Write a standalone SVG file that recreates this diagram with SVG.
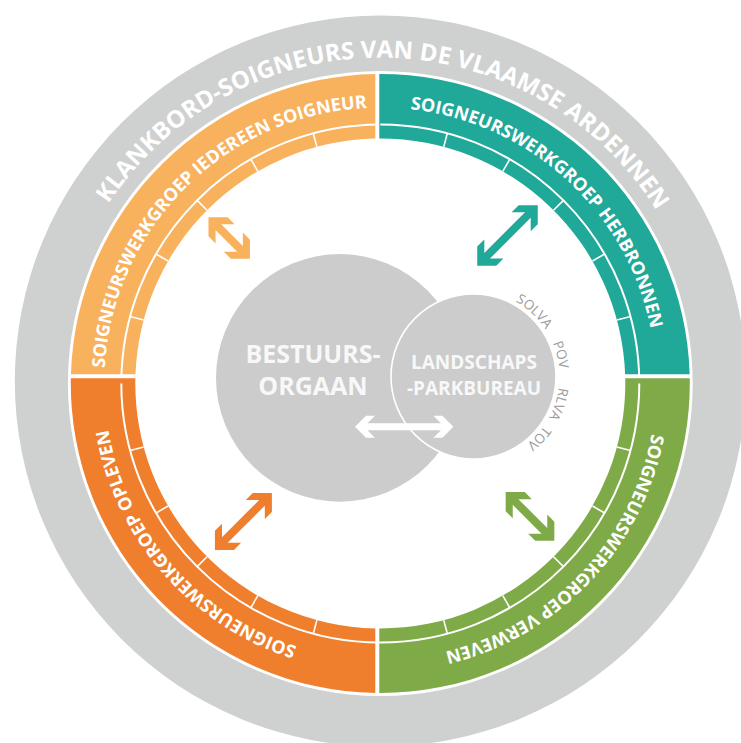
<svg xmlns="http://www.w3.org/2000/svg" xmlns:xlink="http://www.w3.org/1999/xlink" width="741" height="743" viewBox="0 0 741 743">
<style>
.rt{font-family:"Open Sans","Liberation Sans",sans-serif;font-weight:700;fill:#ffffff}
.title{font-size:24px}
.qt{font-size:18px}
.sep{fill:none;stroke:#ffffff;stroke-width:2}
.dv{stroke:#ffffff;stroke-width:1.6}
.core{fill:#cccccc}
.ct{font-family:"Open Sans","Liberation Sans",sans-serif;font-weight:700;fill:#f8f8f8;text-anchor:middle}
.sm{font-family:"Open Sans","Liberation Sans",sans-serif;font-size:13.5px;fill:#9c9c9c}
.lo{fill:#f8b15d}.te{fill:#20a898}.do{fill:#f07f2d}.gr{fill:#7faa48}.wh{fill:#ffffff}
</style>
<defs>
<path id="arc276" d="M 104.3 383.5 A 276 276 0 0 1 656.3 383.5"/>
<path id="arc326" d="M 54.3 383.5 A 326 326 0 0 1 706.3 383.5"/>
<path id="arc86" d="M 387.5 376.5 A 86 86 0 0 1 559.5 376.5"/>
<line id="dvl" x1="380.3" y1="138.5" x2="380.3" y2="124.5"/>
</defs>

<g id="klankbord">
<path d="M 14.8 381 a 365.5 365.5 0 1 0 731 0 a 365.5 365.5 0 1 0 -731 0 Z M 67.9 383.5 a 312.4 312.4 0 1 0 624.8 0 a 312.4 312.4 0 1 0 -624.8 0 Z" fill="#cfd0d0" fill-rule="evenodd"/>
<text class="rt title" transform="rotate(0.7 380.3 383.5)"><textPath xlink:href="#arc326" href="#arc326" startOffset="50%" text-anchor="middle">KLANKBORD-SOIGNEURS VAN DE VLAAMSE ARDENNEN</textPath></text>
</g>

<g id="wg-iedereen">
<path class="lo" d="M 70.94 374.3 A 309.5 309.5 0 0 1 375.3 74.04 L 375.3 138.55 A 245 245 0 0 0 135.47 374.3 Z"/>
<path class="sep" d="M 121.3 383.5 A 259 259 0 0 1 380.3 124.5"/>
<g class="dv">
<use xlink:href="#dvl" href="#dvl" transform="rotate(-15 380.3 383.5)"/>
<use xlink:href="#dvl" href="#dvl" transform="rotate(-30 380.3 383.5)"/>
<use xlink:href="#dvl" href="#dvl" transform="rotate(-45 380.3 383.5)"/>
<use xlink:href="#dvl" href="#dvl" transform="rotate(-60 380.3 383.5)"/>
<use xlink:href="#dvl" href="#dvl" transform="rotate(-75 380.3 383.5)"/>
</g>
<text class="rt qt" transform="rotate(-44.75 380.3 383.5)"><textPath xlink:href="#arc276" href="#arc276" startOffset="50%" text-anchor="middle">SOIGNEURSWERKGROEP IEDEREEN SOIGNEUR</textPath></text>
</g>

<g id="wg-herbronnen">
<path class="te" d="M 379.3 74.0 A 309.5 309.5 0 0 1 689.66 374.3 L 625.13 374.3 A 245 245 0 0 0 379.3 138.5 Z"/>
<path class="sep" d="M 380.3 124.5 A 259 259 0 0 1 639.3 383.5"/>
<g class="dv">
<use xlink:href="#dvl" href="#dvl" transform="rotate(15 380.3 383.5)"/>
<use xlink:href="#dvl" href="#dvl" transform="rotate(30 380.3 383.5)"/>
<use xlink:href="#dvl" href="#dvl" transform="rotate(45 380.3 383.5)"/>
<use xlink:href="#dvl" href="#dvl" transform="rotate(60 380.3 383.5)"/>
<use xlink:href="#dvl" href="#dvl" transform="rotate(75 380.3 383.5)"/>
</g>
<text class="rt qt" transform="rotate(42.4 380.3 383.5)"><textPath xlink:href="#arc276" href="#arc276" startOffset="50%" text-anchor="middle">SOIGNEURSWERKGROEP HERBRONNEN</textPath></text>
</g>

<g id="wg-verweven">
<path class="gr" d="M 689.76 378.3 A 309.5 309.5 0 0 1 379.3 693.0 L 379.3 628.5 A 245 245 0 0 0 625.24 378.3 Z"/>
<path class="sep" d="M 639.3 383.5 A 259 259 0 0 1 380.3 642.5"/>
<g class="dv">
<use xlink:href="#dvl" href="#dvl" transform="rotate(105 380.3 383.5)"/>
<use xlink:href="#dvl" href="#dvl" transform="rotate(120 380.3 383.5)"/>
<use xlink:href="#dvl" href="#dvl" transform="rotate(135 380.3 383.5)"/>
<use xlink:href="#dvl" href="#dvl" transform="rotate(150 380.3 383.5)"/>
<use xlink:href="#dvl" href="#dvl" transform="rotate(165 380.3 383.5)"/>
</g>
<text class="rt qt" transform="rotate(133.5 380.3 383.5)"><textPath xlink:href="#arc276" href="#arc276" startOffset="50%" text-anchor="middle">SOIGNEURSWERKGROEP VERWEVEN</textPath></text>
</g>

<g id="wg-opleven">
<path class="do" d="M 375.3 692.96 A 309.5 309.5 0 0 1 70.84 378.3 L 135.36 378.3 A 245 245 0 0 0 375.3 628.45 Z"/>
<path class="sep" d="M 380.3 642.5 A 259 259 0 0 1 121.3 383.5"/>
<g class="dv">
<use xlink:href="#dvl" href="#dvl" transform="rotate(195 380.3 383.5)"/>
<use xlink:href="#dvl" href="#dvl" transform="rotate(210 380.3 383.5)"/>
<use xlink:href="#dvl" href="#dvl" transform="rotate(225 380.3 383.5)"/>
<use xlink:href="#dvl" href="#dvl" transform="rotate(240 380.3 383.5)"/>
<use xlink:href="#dvl" href="#dvl" transform="rotate(255 380.3 383.5)"/>
</g>
<text class="rt qt" transform="rotate(229 380.3 383.5)"><textPath xlink:href="#arc276" href="#arc276" startOffset="50%" text-anchor="middle">SOIGNEURSWERKGROEP OPLEVEN</textPath></text>
</g>

<g id="bestuursorgaan">
<circle class="core" cx="339.8" cy="377.9" r="123.8"/>
<text class="ct" font-size="25" x="313" y="363">BESTUURS-</text>
<text class="ct" font-size="25" x="313" y="395">ORGAAN</text>
</g>

<g id="landschapsparkbureau">
<circle class="core" cx="473.5" cy="376.5" r="82.5" stroke="#ffffff" stroke-width="1.6"/>
<text class="ct" font-size="19" x="474" y="369">LANDSCHAPS</text>
<text class="ct" font-size="19" x="474" y="395">-PARKBUREAU</text>
<text class="sm" transform="rotate(43 473.5 376.5)"><textPath xlink:href="#arc86" href="#arc86" startOffset="50%" text-anchor="middle">SOLVA</textPath></text>
<text class="sm" transform="rotate(76 473.5 376.5)"><textPath xlink:href="#arc86" href="#arc86" startOffset="50%" text-anchor="middle">POV</textPath></text>
<text class="sm" transform="rotate(108 473.5 376.5)"><textPath xlink:href="#arc86" href="#arc86" startOffset="50%" text-anchor="middle">RLVA</textPath></text>
<text class="sm" transform="rotate(133.4 473.5 376.5)"><textPath xlink:href="#arc86" href="#arc86" startOffset="50%" text-anchor="middle">TOV</textPath></text>
</g>

<g id="connectors">
<polygon class="lo" transform="translate(229.2 238) rotate(45)" points="29.3,0 15.8,-13.5 5.8,-13.5 15.3,-4 -15.3,-4 -5.8,-13.5 -15.8,-13.5 -29.3,0 -15.8,13.5 -5.8,13.5 -15.3,4 15.3,4 5.8,13.5 15.8,13.5"/>
<polygon class="te" transform="translate(507.5 235.4) rotate(-45)" points="42.8,0 29.3,-13.5 19.3,-13.5 28.8,-4 -28.8,-4 -19.3,-13.5 -29.3,-13.5 -42.8,0 -29.3,13.5 -19.3,13.5 -28.8,4 28.8,4 19.3,13.5 29.3,13.5"/>
<polygon class="do" transform="translate(243.4 521.4) rotate(-45)" points="40.3,0 26.8,-13.5 16.8,-13.5 26.3,-4 -26.3,-4 -16.8,-13.5 -26.8,-13.5 -40.3,0 -26.8,13.5 -16.8,13.5 -26.3,4 26.3,4 16.8,13.5 26.8,13.5"/>
<polygon class="gr" transform="translate(530 516.4) rotate(45)" points="34.4,0 20.9,-13.5 10.9,-13.5 20.4,-4 -20.4,-4 -10.9,-13.5 -20.9,-13.5 -34.4,0 -20.9,13.5 -10.9,13.5 -20.4,4 20.4,4 10.9,13.5 20.9,13.5"/>
<polygon class="wh" transform="translate(404.2 426.7)" points="49.2,0 38.2,-11 29.2,-11 36.7,-3.5 -36.7,-3.5 -29.2,-11 -38.2,-11 -49.2,0 -38.2,11 -29.2,11 -36.7,3.5 36.7,3.5 29.2,11 38.2,11"/>
</g>
</svg>
